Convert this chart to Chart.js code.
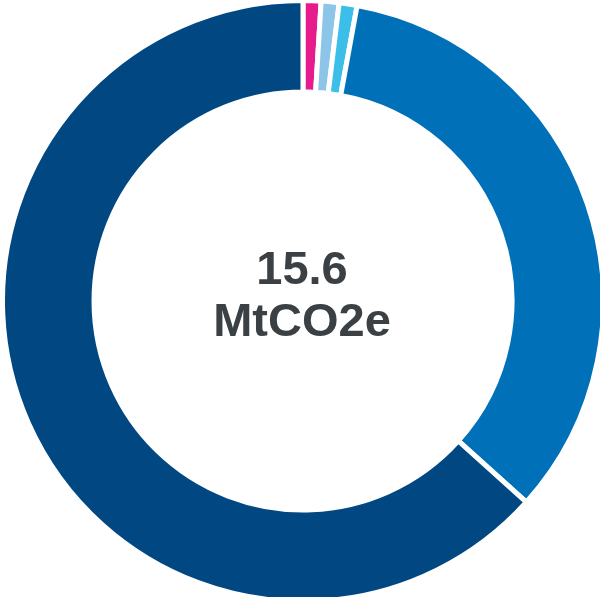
<!DOCTYPE html>
<html>
<head>
<meta charset="utf-8">
<script src="https://cdn.jsdelivr.net/npm/chart.js@4/dist/chart.umd.min.js"></script>
<style>
  html, body { margin: 0; padding: 0; background: #ffffff; }
  #wrap { position: relative; width: 600px; height: 597px; }
  #c { display: block; }
  #center {
    position: absolute; left: 152px; width: 300px; top: 242px;
    text-align: center; font-family: "Liberation Sans", Arial, sans-serif;
    font-weight: bold; font-size: 47px; line-height: 52px; color: #3a4044;
  }
</style>
</head>
<body>
<div id="wrap">
  <canvas id="c" width="600" height="597"></canvas>
  <div id="center"><div>15.6</div><div>MtCO2e</div></div>
</div>
<script>
const categories = ["Category A", "Category B", "Category C", "Category D", "Category E"];
const values = [0.15, 0.15, 0.15, 5.27, 9.88];
const colors = ["#e61b8c", "#8dc5e8", "#3bbfe8", "#0071b9", "#014883"];

new Chart(document.getElementById("c"), {
  type: "doughnut",
  data: {
    labels: categories,
    datasets: [{
      data: values,
      backgroundColor: colors,
      borderColor: "#ffffff",
      borderWidth: 5,
      hoverOffset: 0
    }]
  },
  options: {
    responsive: false,
    animation: false,
    radius: 300.5,
    cutout: "69.55%",
    layout: { padding: { left: 6, top: 5 } },
    plugins: { legend: { display: false }, tooltip: { enabled: false } }
  }
});
</script>
</body>
</html>
